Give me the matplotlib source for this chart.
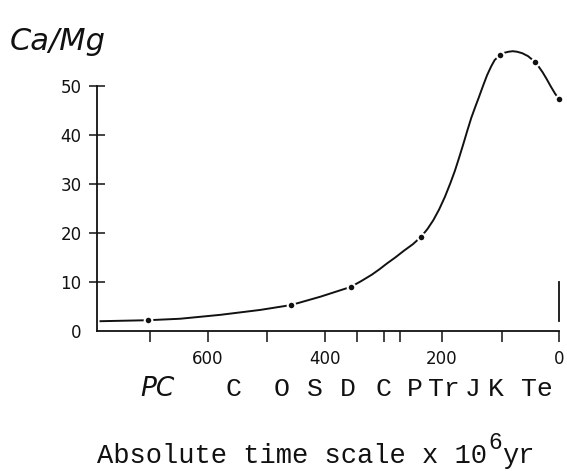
import matplotlib
matplotlib.use('Agg')
import matplotlib.pyplot as plt
from matplotlib import transforms

# ---- data ----
# smooth hand-drawn curve, Ca/Mg ratio against age (10^6 yr)
curve_age = [784, 703, 648, 579, 511, 458, 408, 356, 338, 320, 307, 294, 280, 265, 250,
             236, 225, 215, 205, 195, 186, 178, 171, 164, 157, 150, 143, 137, 130, 123,
             116, 110, 101, 93, 86, 79, 72, 63, 53, 41, 35, 28, 21, 14, 7, 0]
curve_ratio = [2.0, 2.2, 2.5, 3.3, 4.3, 5.3, 7.0, 9.0, 10.2, 11.5, 12.6, 13.8, 15.0, 16.4, 17.7,
               19.2, 20.8, 22.6, 24.8, 27.4, 30.1, 32.7, 35.3, 38.0, 40.8, 43.5, 45.8, 47.7, 50.0, 52.2,
               54.0, 55.3, 56.3, 56.8, 57.0, 57.1, 57.0, 56.7, 56.1, 54.9, 54.0, 52.8, 51.4, 49.9, 48.5, 47.3]

# measured points (dots)
pt_age = [703, 458, 356, 236, 101, 41, 0]
pt_ratio = [2.2, 5.3, 9.0, 19.2, 56.3, 54.9, 47.3]

y_ticks = [0, 10, 20, 30, 40, 50]
x_major = [600, 400, 200, 0]
x_minor = [700, 500, 345, 300, 272, 97]

period_labels = ['C', 'O', 'S', 'D', 'C', 'P', 'Tr', 'J', 'K', 'Te']
period_pos = [557, 474, 417, 361, 301, 246, 197, 148, 108, 38]
pc_pos = 687

ink = '#111111'
mono = 'Liberation Mono'

fig = plt.figure(figsize=(5.67, 4.71), dpi=100)
ax = fig.add_axes([97 / 567, 1 - 331 / 471, (559 - 97) / 567, 58 * 4.9 / 471])

ax.plot(curve_age, curve_ratio, color=ink, lw=1.4, clip_on=False, zorder=2,
        solid_joinstyle='round')
ax.plot(pt_age, pt_ratio, 'o', color=ink, ms=5.5, mec='white', mew=1.5,
        clip_on=False, zorder=3)

ax.set_xlim(790, 0)
ax.set_ylim(0, 58)

# axes look: partial frame like the original drawing
ax.spines['top'].set_visible(False)
ax.spines['left'].set_bounds(0, 50)
ax.spines['right'].set_bounds(2, 10)
for s in ax.spines.values():
    s.set_color(ink)
    s.set_linewidth(1.3)

ax.set_yticks(y_ticks)
ax.set_yticklabels([str(v) for v in y_ticks])
ax.tick_params(axis='y', direction='inout', length=12, width=1.1, pad=5,
               labelsize=12, colors=ink, right=False)
ax.yaxis.get_major_ticks()[0].tick1line.set_visible(False)

ax.set_xticks(x_major)
ax.set_xticklabels([str(v) for v in x_major])
ax.set_xticks(x_minor, minor=True)
ax.tick_params(axis='x', which='both', direction='out', length=8, width=1.1,
               colors=ink)
ax.tick_params(axis='x', which='major', pad=6, labelsize=12)

# geological periods under the axis
row = transforms.blended_transform_factory(ax.transData, fig.transFigure)
ax.text(pc_pos, 0.159, 'PC', transform=row, ha='center', va='baseline',
        fontsize=19, style='italic', color=ink)
for lab, pos in zip(period_labels, period_pos):
    ax.text(pos, 0.159, lab, transform=row, ha='center', va='baseline',
            fontsize=19, family=mono, color=ink)

# bottom caption with superscript
fig.text(97 / 567, 0.017, 'Absolute time scale x 10', ha='left', va='baseline',
         fontsize=19.5, family=mono, color=ink)
fig.text(488 / 567, 1 - 449 / 471, '6', ha='left', va='baseline',
         fontsize=16.5, family=mono, color=ink)
fig.text(502 / 567, 0.017, 'yr', ha='left', va='baseline',
         fontsize=19.5, family=mono, color=ink)

# handwritten axis title
fig.text(58 / 567, 1 - 42 / 471, 'Ca/Mg', ha='center', va='center',
         fontsize=22, style='italic', color=ink)

fig.savefig('out.png', dpi=100)
